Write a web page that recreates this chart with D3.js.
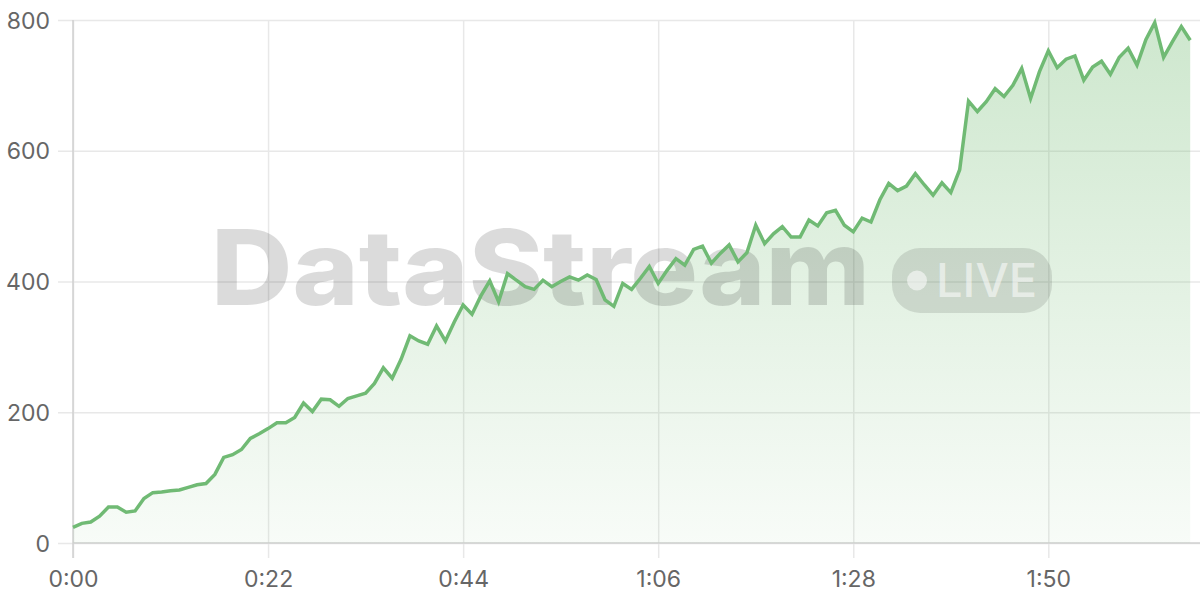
<!DOCTYPE html>
<html><head><meta charset="utf-8">
<script src="https://cdn.jsdelivr.net/npm/d3@7"></script>
<style>
html,body{margin:0;padding:0;background:#fff;}
svg{display:block;}
svg text{font-family:Inter,"Noto Sans",sans-serif !important;}
</style></head>
<body>
<svg id="chart" width="1200" height="600"></svg>
<script>
// time in seconds, one sample per second (0..126)
const values = [24,30,32,41,55,55,47,49,68,77,78,80,81,85,89,91,105,131,135,143,
160,167,175,184,184,192,214,201,220,219,209,221,225,229,244,268,252,281,317,309,
304,332,309,338,364,350,378,401,369,412,402,392,388,402,392,400,407,402,410,403,
372,362,397,388,405,423,397,417,435,425,449,454,428,443,456,430,444,486,458,473,
484,468,468,494,485,505,509,486,476,497,491,525,550,539,546,565,548,532,551,536,
571,676,660,675,695,683,700,726,680,721,753,727,740,745,708,728,737,717,743,757,
731,770,796,743,767,790,769];
const times = values.map((_, i) => i);
const yTicks = [0,200,400,600,800];
const xTicks = [0,22,44,66,88,110];
const watermarkText = "DataStream";
const badgeText = "LIVE";

(function(){
const svg = d3.select("#chart");
const mL = 73, mR = 1190.2, mT = 20, mB = 543;
const x = d3.scaleLinear().domain([0, 126]).range([mL, mR]);
const y = d3.scaleLinear().domain([0, 800]).range([mB, mT]);
const fmt = s => Math.floor(s/60) + ":" + String(s%60).padStart(2,"0");

const defs = svg.append("defs");
const grad = defs.append("linearGradient").attr("id","ag")
  .attr("gradientUnits","userSpaceOnUse").attr("x1",0).attr("y1",mT).attr("x2",0).attr("y2",mB);
grad.append("stop").attr("offset",0).attr("stop-color","rgb(110,185,110)").attr("stop-opacity",0.34);
grad.append("stop").attr("offset",1).attr("stop-color","rgb(110,185,110)").attr("stop-opacity",0.05);

// horizontal gridlines
const yAxis = d3.axisLeft(y).tickValues(yTicks).tickSize(-(1200-mL)).tickPadding(8);
const gy = svg.append("g").attr("transform",`translate(${mL},0)`).call(yAxis);
gy.select(".domain").remove();
gy.selectAll(".tick line").attr("stroke","#e8e8e8").attr("stroke-width",1.5).attr("x1",-15);
gy.selectAll(".tick text").attr("fill","#666").attr("font-size",23).attr("x",-23).attr("dy","0.35em");

// vertical gridlines
const xAxis = d3.axisBottom(x).tickValues(xTicks).tickFormat(fmt).tickSize(-(mB-mT)).tickPadding(28);
const gx = svg.append("g").attr("transform",`translate(0,${mB})`).call(xAxis);
gx.select(".domain").remove();
gx.selectAll(".tick line").attr("stroke","#e8e8e8").attr("stroke-width",1.5).attr("y1",15);
gx.selectAll(".tick text").attr("fill","#666").attr("font-size",23);

// axis lines
svg.append("line").attr("x1",mL).attr("x2",1200).attr("y1",y(0)).attr("y2",y(0)).attr("stroke","#d0d0d0").attr("stroke-width",1.5);
svg.append("line").attr("x1",mL).attr("x2",mL).attr("y1",mT).attr("y2",mB+15).attr("stroke","#d0d0d0").attr("stroke-width",1.5);

const area = d3.area().x((d,i)=>x(times[i])).y0(y(0)).y1(d=>y(d));
const line = d3.line().x((d,i)=>x(times[i])).y(d=>y(d));
svg.append("path").datum(values).attr("d",area).attr("fill","url(#ag)");

// watermark (between area and line)
const wm = svg.append("g").attr("pointer-events","none");
wm.append("text").attr("x",211).attr("y",305).attr("font-size",104).attr("font-weight",800)
  .attr("textLength",659).attr("lengthAdjust","spacingAndGlyphs")
  .attr("fill","rgba(0,0,0,0.14)").text(watermarkText);
wm.append("rect").attr("x",892).attr("y",248).attr("width",160).attr("height",65).attr("rx",28)
  .attr("fill","rgba(0,0,0,0.11)");
wm.append("circle").attr("cx",917).attr("cy",280.5).attr("r",10).attr("fill","rgba(255,255,255,0.55)");
wm.append("text").attr("x",936).attr("y",297).attr("font-size",47).attr("font-weight",500)
  .attr("fill","rgba(255,255,255,0.55)").text(badgeText);

svg.append("path").datum(values).attr("d",line).attr("fill","none")
  .attr("stroke","rgb(112,186,116)").attr("stroke-width",3.5).attr("stroke-linejoin","miter");
})();
</script>
</body></html>
